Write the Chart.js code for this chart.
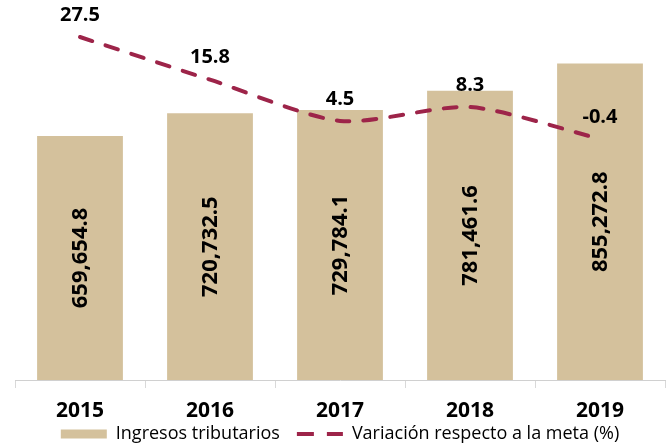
<!DOCTYPE html>
<html>
<head>
<meta charset="utf-8">
<script src="https://cdn.jsdelivr.net/npm/chart.js@4.4.1/dist/chart.umd.min.js"></script>
<style>
  html, body { margin: 0; padding: 0; background: #ffffff; }
  #wrap { width: 667px; height: 446px; }
</style>
</head>
<body>
<div id="wrap"><canvas id="c" width="667" height="446"></canvas></div>
<script>
const categories = ['2015', '2016', '2017', '2018', '2019'];
const ingresos = [659654.8, 720732.5, 729784.1, 781461.6, 855272.8];
const variacion = [27.5, 15.8, 4.5, 8.3, -0.4];

const barColor = '#D4C19C';
const lineColor = '#9D2449';
const FONT = '"Open Sans", "DejaVu Sans", sans-serif';

function fmtMiles(v) {
  return v.toLocaleString('en-US', { minimumFractionDigits: 1, maximumFractionDigits: 1 });
}

const labelPlugin = {
  id: 'valueLabels',
  afterDatasetsDraw(chart) {
    const ctx = chart.ctx;
    ctx.save();
    const barMeta = chart.getDatasetMeta(0);
    ctx.fillStyle = '#000000';
    ctx.font = 'bold 22px ' + FONT;
    ctx.textAlign = 'center';
    ctx.textBaseline = 'middle';
    barMeta.data.forEach((bar, i) => {
      const cy = (bar.y + bar.base) / 2;
      ctx.save();
      ctx.translate(bar.x, cy);
      ctx.rotate(-Math.PI / 2);
      ctx.fillText(fmtMiles(ingresos[i]), 0, 1);
      ctx.restore();
    });
    const lineMeta = chart.getDatasetMeta(1);
    ctx.font = 'bold 20px ' + FONT;
    lineMeta.data.forEach((pt, i) => {
      ctx.fillText(String(variacion[i]), pt.x, pt.y - 22);
    });
    ctx.restore();
  }
};

new Chart(document.getElementById('c'), {
  type: 'bar',
  data: {
    labels: categories,
    datasets: [
      {
        type: 'bar',
        label: 'Ingresos tributarios',
        data: ingresos,
        backgroundColor: barColor,
        borderWidth: 0,
        barPercentage: 0.66,
        categoryPercentage: 1.0,
        yAxisID: 'y',
        order: 2
      },
      {
        type: 'line',
        label: 'Variación respecto a la meta (%)',
        data: variacion,
        borderColor: lineColor,
        backgroundColor: lineColor,
        borderWidth: 4,
        borderDash: [13, 14],
        borderCapStyle: 'round',
        pointRadius: 0,
        tension: 0.25,
        fill: false,
        yAxisID: 'y1',
        order: 1
      }
    ]
  },
  options: {
    responsive: false,
    animation: false,
    devicePixelRatio: 1,
    layout: { padding: { left: 15, right: 2, top: 10, bottom: -7 } },
    plugins: {
      tooltip: { enabled: false },
      legend: {
        position: 'bottom',
        labels: {
          usePointStyle: true,
          pointStyleWidth: 46,
          boxHeight: 9,
          padding: 3,
          color: '#222222',
          font: { family: FONT, size: 18 },
          generateLabels(chart) {
            return [
              { text: 'Ingresos tributarios   ', fillStyle: barColor, strokeStyle: barColor, lineWidth: 0, pointStyle: 'rect', datasetIndex: 0 },
              { text: 'Variación respecto a la meta (%)', fillStyle: lineColor, strokeStyle: lineColor, lineWidth: 4, lineDash: [17, 13], lineCap: 'butt', pointStyle: 'line', datasetIndex: 1 }
            ];
          }
        }
      }
    },
    scales: {
      x: {
        offset: true,
        afterFit(scale) { scale.height = 42; },
        grid: { display: true, offset: true, drawOnChartArea: false, drawTicks: true, tickLength: 8, color: '#d9d9d9' },
        border: { display: true, color: '#d0d0d0', width: 1 },
        ticks: { color: '#000000', font: { family: FONT, size: 21, weight: 'bold' }, padding: 10 }
      },
      y: { display: false, min: 0, max: 1000000 },
      y1: { display: false, min: -66.5, max: 34.9 }
    }
  },
  plugins: [labelPlugin]
});
</script>
</body>
</html>
